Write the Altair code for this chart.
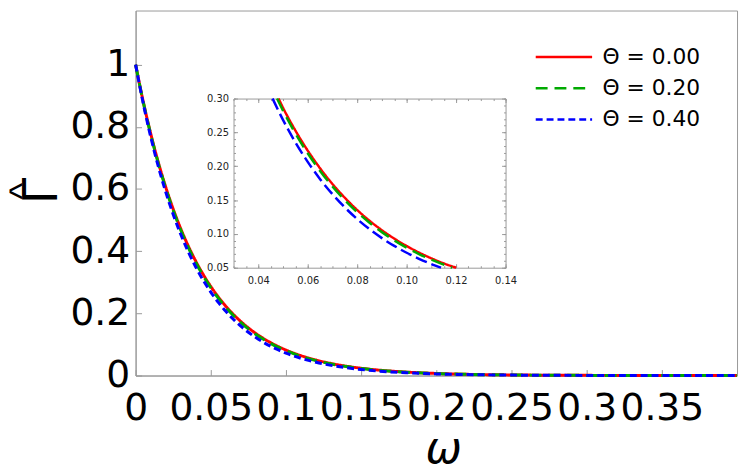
import altair as alt
import pandas as pd

# ---------------- data ----------------
W = [0.000, 0.005, 0.010, 0.015, 0.020, 0.025, 0.030, 0.035, 0.040, 0.045,
     0.050, 0.055, 0.060, 0.065, 0.070, 0.075, 0.080, 0.085, 0.090, 0.095,
     0.100, 0.105, 0.110, 0.115, 0.120, 0.125, 0.130, 0.140, 0.150, 0.160,
     0.180, 0.200, 0.250, 0.300, 0.350, 0.400]
RED = [1.000, 0.8825, 0.7788, 0.6873, 0.6065, 0.5353, 0.4724, 0.4169, 0.3679, 0.3247,
       0.2865, 0.2528, 0.2231, 0.1969, 0.1738, 0.1534, 0.1353, 0.1194, 0.1054, 0.0930,
       0.0821, 0.0724, 0.0639, 0.0564, 0.0498, 0.0439, 0.0388, 0.0302, 0.0235, 0.0183,
       0.0111, 0.0067, 0.0019, 0.0006, 0.0002, 0.0000]
GREEN = [1.000, 0.8812, 0.7765, 0.6842, 0.6029, 0.5312, 0.4681, 0.4125, 0.3635, 0.3203,
         0.2822, 0.2487, 0.2191, 0.1931, 0.1702, 0.1499, 0.1321, 0.1164, 0.1026, 0.0904,
         0.0796, 0.0702, 0.0619, 0.0545, 0.0480, 0.0423, 0.0373, 0.0290, 0.0225, 0.0175,
         0.0105, 0.0064, 0.0018, 0.0005, 0.0001, 0.0000]
BLUE = [1.000, 0.8768, 0.7687, 0.6740, 0.5910, 0.5182, 0.4543, 0.3983, 0.3492, 0.3062,
        0.2685, 0.2354, 0.2064, 0.1809, 0.1587, 0.1391, 0.1220, 0.1069, 0.0937, 0.0822,
        0.0721, 0.0632, 0.0554, 0.0486, 0.0426, 0.0373, 0.0327, 0.0252, 0.0194, 0.0149,
        0.0088, 0.0052, 0.0014, 0.0004, 0.0001, 0.0000]

SERIES = ["Θ = 0.00", "Θ = 0.20", "Θ = 0.40"]
COLORS = ["#ff0000", "#00aa00", "#0000ff"]

# inset: where each curve crosses the inset's top (0.30) and bottom (0.05) edges
INSET_X_DOMAIN = [0.03, 0.14]
INSET_Y_DOMAIN = [0.05, 0.30]
INSET_START_W = [0.0482, 0.0476, 0.0458]
INSET_END_W = [0.1200, 0.1184, 0.1139]

# ticks / labels
X_TICKS = [0, 0.05, 0.1, 0.15, 0.2, 0.25, 0.3, 0.35]
Y_TICKS = [0, 0.2, 0.4, 0.6, 0.8, 1.0]
INSET_X_MAJOR = [0.04, 0.06, 0.08, 0.10, 0.12, 0.14]
INSET_X_MINOR = [0.030, 0.035, 0.040, 0.045, 0.050, 0.055, 0.060, 0.065, 0.070, 0.075,
                 0.080, 0.085, 0.090, 0.095, 0.100, 0.105, 0.110, 0.115, 0.120, 0.125,
                 0.130, 0.135, 0.140]
INSET_Y_MAJOR = [0.05, 0.10, 0.15, 0.20, 0.25, 0.30]
INSET_Y_MINOR = [0.05, 0.06, 0.07, 0.08, 0.09, 0.10, 0.11, 0.12, 0.13, 0.14, 0.15, 0.16,
                 0.17, 0.18, 0.19, 0.20, 0.21, 0.22, 0.23, 0.24, 0.25, 0.26, 0.27, 0.28,
                 0.29, 0.30]

# ---------------- tables ----------------
main_rows = []
for s, vals in zip(SERIES, [RED, GREEN, BLUE]):
    for w, v in zip(W, vals):
        main_rows.append({"w": w, "v": v, "series": s})
main_df = pd.DataFrame(main_rows)

inset_rows = []
for s, ws, we, vals in zip(SERIES, INSET_START_W, INSET_END_W, [RED, GREEN, BLUE]):
    inset_rows.append({"w": ws, "v": INSET_Y_DOMAIN[1], "series": s})
    for w, v in zip(W, vals):
        if ws < w < we and INSET_Y_DOMAIN[0] < v < INSET_Y_DOMAIN[1]:
            inset_rows.append({"w": w, "v": v, "series": s})
    inset_rows.append({"w": we, "v": INSET_Y_DOMAIN[0], "series": s})
inset_df = pd.DataFrame(inset_rows)

# ---------------- layout constants ----------------
PW, PH = 608, 369
FONT = "DejaVu Sans"
AX = "#999999"
IN_L, IN_R, IN_T, IN_B = 99, 374, 89, 260

main_x = alt.Scale(domain=[0, 0.4], nice=False, zero=False)
main_y = alt.Scale(domain=[0, 1.174], nice=False, zero=False)
in_x = alt.Scale(domain=INSET_X_DOMAIN, range=[IN_L, IN_R], nice=False, zero=False)
in_y = alt.Scale(domain=INSET_Y_DOMAIN, range=[IN_B, IN_T], nice=False, zero=False)

legend = alt.Legend(
    title=None, orient="none", legendX=403, legendY=35,
    symbolType="stroke", symbolSize=3249, symbolStrokeWidth=2.5,
    labelFont=FONT, labelFontSize=22, labelColor="black", labelOffset=9,
    clipHeight=24, rowPadding=7.6, padding=0,
)

main_lines = alt.Chart(main_df).mark_line(strokeWidth=3, interpolate="monotone").encode(
    x=alt.X("w:Q", scale=main_x, axis=alt.Axis(
        values=X_TICKS, format="~g", ticks=False, domain=True, domainColor=AX,
        labelFont=FONT, labelFontSize=38, labelColor="black", labelPadding=14,
        labelOverlap=False, labelFlush=False, labelBound=False,
        title="ω", titleFont=FONT, titleFontSize=44, titleFontStyle="italic",
        titleFontWeight="normal", titleColor="black", titleX=311, titleY=88,
        titleBaseline="alphabetic", titleAlign="center")),
    y=alt.Y("v:Q", scale=main_y, axis=alt.Axis(
        values=Y_TICKS, format="~g", ticks=False, domain=True, domainColor=AX,
        labelFont=FONT, labelFontSize=38, labelColor="black", labelPadding=6,
        labelOverlap=False, labelFlush=False, labelBound=False,
        title="Γ", titleFont=FONT, titleFontSize=48, titleFontWeight="normal",
        titleColor="black", titleX=-80, titleY=182, titleAngle=270,
        titleBaseline="alphabetic", titleAlign="center")),
    color=alt.Color("series:N", scale=alt.Scale(domain=SERIES, range=COLORS), legend=legend),
    strokeDash=alt.StrokeDash("series:N", scale=alt.Scale(
        domain=SERIES, range=[[1, 0], [12, 7], [7, 4]]), legend=legend),
)

# inward ticks of the main frame; the hat of the y title rides on this axis
main_ticks = alt.Chart(main_df).mark_point(opacity=0).encode(
    x=alt.X("w:Q", scale=main_x, axis=alt.Axis(
        orient="top", offset=-PH, values=X_TICKS, labels=False, domain=False,
        ticks=True, tickSize=6, tickColor=AX, title=None)),
    y=alt.Y("v:Q", scale=main_y, axis=alt.Axis(
        orient="right", offset=-PW, values=Y_TICKS, labels=False, domain=False,
        ticks=True, tickSize=6, tickColor=AX,
        title="^", titleFont="Liberation Sans", titleFontSize=36, titleFontWeight="normal",
        titleColor="black", titleX=-114, titleY=182, titleAngle=270,
        titleBaseline="middle", titleAlign="center")),
)

inset_lines = alt.Chart(inset_df).mark_line(strokeWidth=2.5, interpolate="monotone").encode(
    x=alt.X("w:Q", scale=in_x, axis=alt.Axis(
        orient="bottom", offset=-(PH - IN_B), values=INSET_X_MAJOR, format=".2f",
        ticks=False, domain=True, domainColor=AX, labelFont=FONT, labelFontSize=10,
        labelColor="#222222", labelPadding=8, labelOverlap=False, labelFlush=False,
        title=None)),
    y=alt.Y("v:Q", scale=in_y, axis=alt.Axis(
        orient="left", offset=-IN_L, values=INSET_Y_MAJOR, format=".2f",
        ticks=False, domain=True, domainColor=AX, labelFont=FONT, labelFontSize=10,
        labelColor="#222222", labelPadding=5, labelOverlap=False, labelFlush=False,
        title=None)),
    color=alt.Color("series:N", scale=alt.Scale(domain=SERIES, range=COLORS), legend=None),
    strokeDash=alt.StrokeDash("series:N", scale=alt.Scale(
        domain=SERIES, range=[[1, 0], [14, 7], [12, 5]]), legend=None),
    order=alt.Order("w:Q"),
)


def inset_tick_layer(xorient, xoff, yorient, yoff, xvals, yvals, size, dom):
    return alt.Chart(inset_df).mark_point(opacity=0).encode(
        x=alt.X("w:Q", scale=in_x, axis=alt.Axis(
            orient=xorient, offset=xoff, values=xvals, labels=False, domain=dom,
            domainColor=AX, ticks=True, tickSize=size, tickColor=AX, title=None)),
        y=alt.Y("v:Q", scale=in_y, axis=alt.Axis(
            orient=yorient, offset=yoff, values=yvals, labels=False, domain=dom,
            domainColor=AX, ticks=True, tickSize=size, tickColor=AX, title=None)),
    )


# bottom/left edges: ticks pointing inward
in_bl_major = inset_tick_layer("top", -IN_B, "right", -(PW - IN_L), INSET_X_MAJOR, INSET_Y_MAJOR, 4, False)
in_bl_minor = inset_tick_layer("top", -IN_B, "right", -(PW - IN_L), INSET_X_MINOR, INSET_Y_MINOR, 2, False)
# top/right edges: frame line plus inward ticks
in_tr_major = inset_tick_layer("bottom", -(PH - IN_T), "left", -IN_R, INSET_X_MAJOR, INSET_Y_MAJOR, 4, True)
in_tr_minor = inset_tick_layer("bottom", -(PH - IN_T), "left", -IN_R, INSET_X_MINOR, INSET_Y_MINOR, 2, False)

chart = alt.layer(
    main_ticks, in_bl_major, in_bl_minor, in_tr_major, in_tr_minor, inset_lines, main_lines
).resolve_scale(
    x="independent", y="independent", color="independent", strokeDash="independent"
).properties(
    width=PW, height=PH, autosize=alt.AutoSizeParams(type="none"),
    padding={"left": 129, "top": 0, "right": 2, "bottom": 97},
    background="white",
).configure_view(
    stroke=AX, strokeWidth=1
).configure_axis(grid=False)

chart.save("out.html", embed_options={"renderer": "svg", "actions": False})
